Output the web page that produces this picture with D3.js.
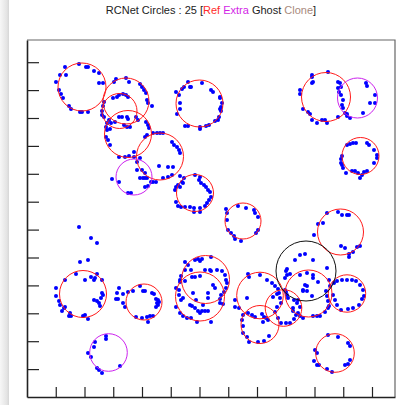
<!DOCTYPE html>
<html>
<head>
<meta charset="utf-8">
<script src="https://cdn.jsdelivr.net/npm/d3@7"></script>
<style>
  html, body { margin: 0; padding: 0; background: #fff; }
  svg { display: block; }
</style>
</head>
<body>
<div id="chart"></div>
<script>
'use strict';

// plot units (the original has no tick labels, one tick every 28.75 x / 27.9 y)
var xMax = 368, yMax = 357,
    xTickStep = 28.75, yTickStep = 27.9;

// circles [cx, cy, r]
var refCircles = [
    [55, 310, 24], [99, 296, 23], [92.5, 286, 17.5], [101, 263, 23.5], [133, 240.5, 23.5],
    [172.5, 293.5, 23.5], [168, 204, 18.5], [216, 176, 18], [299, 300, 24.5], [333.5, 241, 18.5],
    [313.5, 165, 23], [56, 103, 23.5], [117, 95, 18], [178.5, 117.5, 24], [173, 100.5, 24.5],
    [233, 101.5, 23.3], [233, 72.5, 19], [256.5, 89, 18.3], [281.5, 103.5, 23.5], [320, 103.5, 18.7],
    [308, 44, 19.3]
];
var extraCircles = [[107, 220, 18], [330.5, 299, 20], [81.5, 44.5, 18.8]];
var ghostCircles = [[279, 126, 30]];
var cloneCircles = [];

// points [x, y]
var pointsTopLeft = [
    [38,330],[33,322],[39,322],[29,315],[52,333],[59,330],[61,330],[67,326],[72,324],[72,314],
    [76,314],[32,307],[34,303],[36,299],[42,291],[44,288],[53,285],[55,285],[61,285],
    [89,318],[87,315],[99,319],[102,315],[113,313],[115,310],[117,307],[119,304],[77,295],[76,291],
    [86,299],[90,300],[92,302],[96,303],[99,302],[101,300],[120,297],[121,294],[125,291],[75,286],
    [75,282],[77,280],[92,280],[95,280],[100,280],[101,278],[88,275],[84,274],[82,277],[80,274],
    [79,270],[97,272],[100,270],[103,270],[109,280],[111,277],[119,275],[121,272],[122,269],[80,267],
    [83,268],[79,260],[81,257],[83,252],[92,240],[98,240],[102,241],[107,240],[107,245],[110,235],
    [113,239],[118,260],[120,262],[126,264],[130,264],[133,264],[136,264],[145,255],[147,252],[150,250],
    [152,247],[153,244],[132,231],[141,230],[146,230],[110,227],[115,227],[118,224],[113,219],[116,219],
    [118,219],[120,219],[124,215],[126,215],[129,215],[136,219],[141,220],[145,222],[85,218],[92,215],
    [118,210],[121,211],[101,204],[104,204]
];
var pointsTopMid = [
    [161,315],[157,310],[155,308],[163,310],[164,310],[149,305],[152,302],[153,294],[153,288],[150,283],
    [175,314],[184,307],[186,305],[193,300],[193,299],[195,294],[194,290],[193,288],[194,286],[192,280],
    [191,277],[188,276],[158,271],[161,271],[173,270],[173,268],[179,271],[182,272],
    [153,221],[157,219],[155,215],[151,212],[153,210],[149,210],[148,207],[156,214],[168,222],[173,220],
    [172,217],[174,214],[177,212],[179,210],[181,207],[183,205],[184,200],[182,197],[180,194],[178,191],
    [173,189],[173,185],[167,189],[167,185],[163,190],[158,190],[154,190],[151,191],[149,195],
    [199,188],[200,184],[211,191],[219,189],[227,187],[228,184],[231,180],[200,177],[201,167],[204,164],
    [207,161],[208,158],[214,156],[229,164],[231,167]
];
var pointsTopRight = [
    [285,322],[285,320],[286,315],[285,314],[301,325],[311,315],[313,314],[314,310],[311,309],[312,305],
    [314,302],[316,297],[315,292],[316,289],[318,284],[320,283],[311,280],[273,307],[273,303],[276,288],
    [281,285],[283,283],[285,277],[290,274],[295,277],[298,277],[300,274],[339,314],[340,311],[348,302],
    [343,294],[348,294],[336,284],[323,279],[320,281],
    [320,252],[323,253],[326,254],[329,254],[340,254],[342,252],[347,247],[350,242],[350,239],[347,234],
    [315,241],[314,238],[314,234],[315,232],[316,229],[319,224],[325,226],[328,226],[331,224],[335,222],
    [337,225],[333,219],[340,226],
    [300,184],[311,185],[315,182],[320,182],[322,182],[296,174],[291,173],[287,162],[314,151],[318,149],
    [322,140],[326,145],[330,150],[333,151],[322,143]
];
var pointsBottomLeft = [
    [52,170],[64,159],[70,154],[53,135],[61,137],[49,123],[58,117],[64,120],[67,117],[68,119],
    [70,123],[75,117],[38,117],[29,109],[29,101],[32,96],[33,92],[37,89],[38,90],[35,86],
    [43,84],[42,81],[44,81],[56,81],[58,82],[61,78],[67,97],[70,96],[72,94],[73,91],
    [75,104],[76,102],[74,99],
    [92,109],[90,104],[89,98],[91,98],[96,103],[96,94],[98,90],[101,105],[106,106],[113,111],
    [116,106],[118,106],[125,104],[127,103],[129,98],[131,97],[132,95],[130,94],[131,92],[129,90],
    [126,81],[123,81],[120,80],[121,75],[115,79],[109,80],
    [79,61],[79,58],[68,55],[67,50],[61,44],[64,40],[70,29],[72,27],[75,24],[93,31]
];
var pointsBottomMid = [
    [158,135],[161,132],[168,137],[171,138],[173,136],[175,138],[184,140],[158,127],[154,121],[153,117],
    [153,115],[158,116],[164,127],[165,120],[168,120],[173,121],[178,127],[183,127],[184,126],[190,127],
    [195,126],[198,122],[199,117],[200,114],[199,109],[197,105],[194,102],[193,98],[193,94],[196,93],
    [149,109],[152,107],[152,102],[154,97],[156,99],[149,90],[153,84],[156,81],[160,79],[164,79],
    [170,75],[163,92],[165,91],[168,89],[171,86],[173,84],[175,86],[178,86],[181,86],[184,75],
    [186,112],[188,109],[181,104],[166,104],[169,97],[176,92],[181,99],
    [221,123],[222,120],[233,122],[240,117],[245,114],[248,111],[251,108],[252,104],[208,97],[208,90],
    [212,89],[221,84],[225,82],[228,80],[235,83],[237,80],[239,79],[220,99],[246,100],
    [216,82],[215,77],[216,71],[216,64],[220,60],[222,55],[231,55],[237,56],[242,61],[236,75],[241,77]
];
var pointsBottomRight = [
    [250,103],[253,99],[254,94],[250,90],[248,85],[251,79],[254,74],[259,74],[263,74],[267,78],
    [271,84],[273,90],[271,97],
    [273,142],[278,143],[268,137],[286,137],[260,128],[259,126],[260,122],[258,119],[263,123],[273,122],
    [280,124],[286,122],[286,119],[291,115],[300,129],[302,117],[307,114],[303,111],[258,107],[259,105],
    [260,102],[261,99],[278,112],[276,107],[280,111],[280,106],[276,106],[285,101],[299,106],[300,101],
    [301,96],[302,91],[267,97],[270,94],[266,89],[266,86],[269,82],[273,81],[276,79],[286,81],
    [290,81],[293,81],[298,85],[301,89],
    [310,116],[315,117],[320,117],[325,117],[329,116],[333,112],[336,107],[337,101],[335,98],[332,92],
    [326,89],[321,88],[314,87],[310,92],[308,97],[306,102],
    [301,62],[311,60],[321,54],[323,51],[288,47],[290,44],[287,36],[290,32],[292,32],[300,28],
    [305,25],[318,32],[321,33],[323,37]
];

var points = [].concat(pointsTopLeft, pointsTopMid, pointsTopRight,
                       pointsBottomLeft, pointsBottomMid, pointsBottomRight);

var W = 397, H = 405,
    margin = {top: 40, right: 2, bottom: 8, left: 27},
    width = W - margin.left - margin.right,
    height = H - margin.top - margin.bottom;

var svg = d3.select("#chart").append("svg")
    .attr("width", W)
    .attr("height", H);

// page shadow strip on the left
var grad = svg.append("defs").append("linearGradient")
    .attr("id", "shade")
    .attr("x1", "0%").attr("x2", "100%");
grad.append("stop").attr("offset", "0%").attr("stop-color", "#f7f7f7");
grad.append("stop").attr("offset", "75%").attr("stop-color", "#e4e4e4");
grad.append("stop").attr("offset", "100%").attr("stop-color", "#d6d6d6");
svg.append("rect")
    .attr("x", 0).attr("y", 0)
    .attr("width", 9).attr("height", H)
    .attr("fill", "url(#shade)");

// title
var title = svg.append("text")
    .attr("x", margin.left + width / 2)
    .attr("y", 14)
    .attr("text-anchor", "middle")
    .style("font-family", "'Liberation Sans', Arial, sans-serif")
    .style("font-size", "11px")
    .attr("fill", "#222");
title.append("tspan").text("RCNet Circles : " + (refCircles.length + extraCircles.length + ghostCircles.length + cloneCircles.length) + " [");
title.append("tspan").attr("fill", "#ff2a2a").text("Ref");
title.append("tspan").text(" ");
title.append("tspan").attr("fill", "#d21fe6").text("Extra");
title.append("tspan").text(" Ghost ");
title.append("tspan").attr("fill", "#a88a7c").text("Clone");
title.append("tspan").text("]");

var g = svg.append("g")
    .attr("transform", "translate(" + margin.left + "," + margin.top + ")");

var x = d3.scaleLinear().domain([0, xMax]).range([0, width]);
var y = d3.scaleLinear().domain([0, yMax]).range([height, 0]);

// frame top / right
g.append("path")
    .attr("d", "M0,0H" + width + "V" + height)
    .attr("fill", "none")
    .attr("stroke", "#666")
    .attr("stroke-width", 1.2);

// axes, ticks pointing inward, no labels
var xTicks = d3.range(1, 13).map(function (i) { return i * xTickStep; });
var yTicks = d3.range(1, 13).map(function (i) { return i * yTickStep; });

var xAxis = g.append("g")
    .attr("transform", "translate(0," + height + ")")
    .call(d3.axisBottom(x).tickValues(xTicks).tickSize(-10).tickSizeOuter(0).tickFormat(""));
var yAxis = g.append("g")
    .call(d3.axisLeft(y).tickValues(yTicks).tickSize(-12).tickSizeOuter(0).tickFormat(""));
[xAxis, yAxis].forEach(function (a) {
    a.select(".domain").attr("stroke", "#222").attr("stroke-width", 1.6);
    a.selectAll(".tick line").attr("stroke", "#222").attr("stroke-width", 1.2);
});

// points
g.append("g").selectAll("circle")
    .data(points)
    .enter().append("circle")
    .attr("cx", function (d) { return x(d[0]); })
    .attr("cy", function (d) { return y(d[1]); })
    .attr("r", 2)
    .attr("fill", "#0000ff");

// circles
function drawCircles(data, color) {
    g.append("g").selectAll("ellipse")
        .data(data)
        .enter().append("ellipse")
        .attr("cx", function (d) { return x(d[0]); })
        .attr("cy", function (d) { return y(d[1]); })
        .attr("rx", function (d) { return x(d[2]) - x(0); })
        .attr("ry", function (d) { return y(0) - y(d[2]); })
        .attr("fill", "none")
        .attr("stroke", color)
        .attr("stroke-width", 1);
}
drawCircles(refCircles, "#ff1a1a");
drawCircles(extraCircles, "#cc22ee");
drawCircles(ghostCircles, "#111");
drawCircles(cloneCircles, "#a88a7c");
</script>
</body>
</html>
